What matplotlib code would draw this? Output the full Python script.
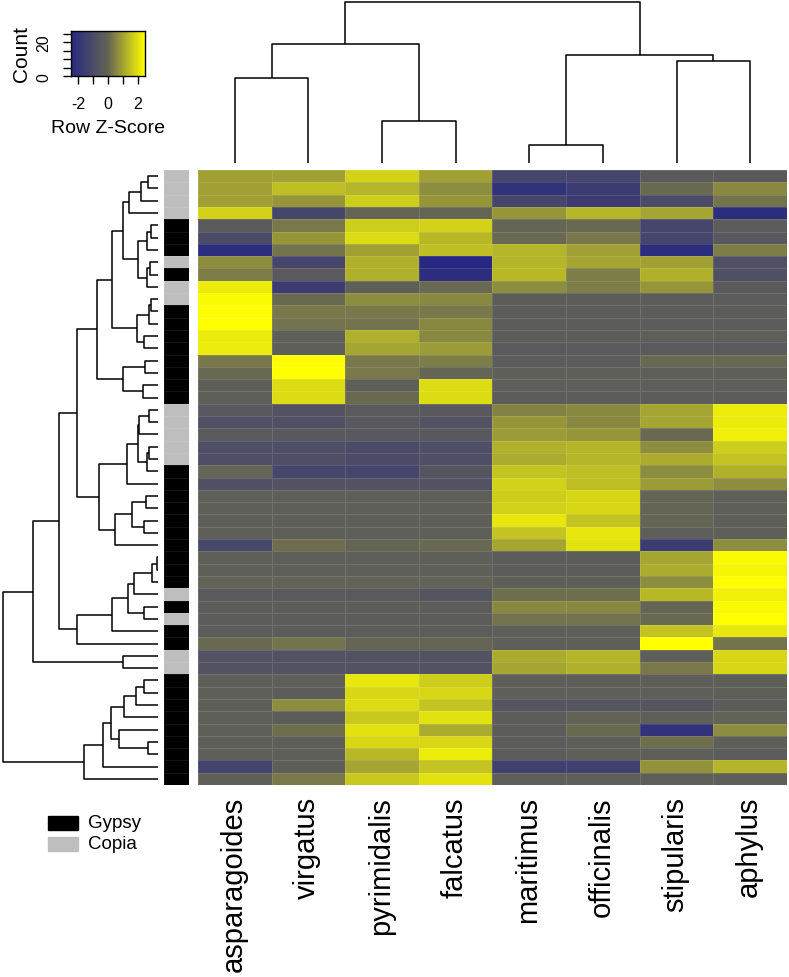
import numpy as np
import matplotlib
matplotlib.use("Agg")
import matplotlib.pyplot as plt
from matplotlib.colors import LinearSegmentedColormap, ListedColormap
from matplotlib.patches import Rectangle

plt.rcParams['font.family'] = ['Liberation Sans', 'DejaVu Sans']

# ---------------- data ----------------
SPECIES = ["asparagoides", "virgatus", "pyrimidalis", "falcatus",
           "maritimus", "officinalis", "stipularis", "aphylus"]

# Row z-scores (50 TE families x 8 species), top to bottom
ZSCORES = [
    [0.96, 0.96, 1.75, 0.96, -1.24, -1.24, -0.41, -0.41],
    [0.96, 1.43, 1.28, 0.64, -2.06, -1.65, 0.08, 0.56],
    [0.96, 0.80, 1.67, 0.80, -1.24, -1.65, -1.03, 0.24],
    [1.75, -1.24, 0.00, 0.00, 0.80, 1.28, 1.04, -2.26],
    [-0.41, 0.32, 1.67, 1.75, 0.00, 0.08, -1.24, -0.33],
    [-1.03, 0.80, 1.91, 1.35, 0.08, 0.32, -1.24, -0.49],
    [-2.26, 0.24, 0.96, 1.43, 1.28, 0.96, -2.26, 0.40],
    [0.64, -1.24, 1.20, -2.47, 1.28, 1.04, 0.96, -0.82],
    [0.40, -0.41, 1.20, -2.26, 1.35, 0.40, 1.20, -0.82],
    [2.15, -1.65, -0.21, 0.08, 0.64, 0.40, 0.80, -0.41],
    [2.39, 0.08, 0.64, 0.56, -0.33, -0.33, -0.33, -0.33],
    [2.47, 0.32, 0.32, 0.32, -0.33, -0.33, -0.33, -0.33],
    [2.47, 0.24, 0.24, 0.56, -0.33, -0.33, -0.33, -0.33],
    [2.15, -0.21, 1.20, 0.56, -0.33, -0.33, -0.21, -0.21],
    [2.15, -0.21, 1.04, 0.88, -0.41, -0.41, -0.41, -0.41],
    [0.32, 2.47, 0.32, 0.40, -0.33, -0.33, 0.08, 0.08],
    [0.08, 2.47, 0.32, 0.00, -0.21, -0.21, -0.21, -0.21],
    [-0.21, 1.91, -0.21, 1.91, -0.21, -0.21, -0.21, -0.21],
    [-0.21, 1.91, 0.08, 1.91, -0.33, -0.33, -0.33, -0.33],
    [-0.49, -0.74, -0.41, -0.49, 0.48, 0.56, 1.04, 2.15],
    [-0.82, -0.82, -0.49, -0.74, 0.80, 0.56, 1.04, 2.15],
    [-0.41, -0.49, -0.49, -0.49, 0.88, 0.80, 0.08, 2.23],
    [-0.91, -0.91, -1.03, -0.91, 1.20, 1.28, 0.64, 1.67],
    [-0.91, -0.91, -1.03, -0.91, 1.12, 1.28, 1.12, 1.51],
    [0.00, -1.24, -1.24, -0.62, 1.51, 1.43, 0.64, 1.20],
    [-0.82, -0.74, -0.74, -0.74, 1.75, 1.43, 0.88, 0.64],
    [-0.21, -0.21, -0.21, -0.21, 1.67, 1.83, 0.00, -0.21],
    [-0.21, -0.21, -0.21, -0.21, 1.75, 1.83, 0.00, -0.21],
    [-0.21, -0.21, -0.21, -0.21, 2.07, 1.51, 0.00, -0.21],
    [-0.21, -0.21, -0.21, -0.21, 1.51, 2.07, -0.21, -0.21],
    [-1.15, 0.16, 0.00, 0.08, 1.04, 1.99, -1.65, 0.64],
    [-0.21, -0.21, -0.21, -0.21, -0.33, -0.33, 1.04, 2.39],
    [-0.21, -0.21, -0.21, -0.21, -0.33, -0.33, 1.12, 2.31],
    [-0.08, -0.08, -0.08, -0.08, -0.21, -0.21, 0.64, 2.47],
    [-0.41, -0.41, -0.41, -0.62, 0.16, 0.16, 1.35, 2.23],
    [-0.33, -0.33, -0.33, -0.33, 0.56, 0.56, 0.00, 2.39],
    [-0.33, -0.33, -0.33, -0.33, 0.24, 0.24, 0.08, 2.47],
    [-0.33, -0.33, -0.33, -0.33, -0.21, -0.21, 1.51, 2.07],
    [0.08, 0.24, 0.00, 0.00, -0.21, -0.21, 2.47, 0.24],
    [-0.74, -0.74, -0.74, -0.74, 1.12, 1.28, -0.21, 1.83],
    [-0.74, -0.74, -0.74, -0.74, 1.04, 1.20, 0.32, 1.83],
    [-0.21, -0.21, 2.07, 1.67, -0.21, -0.21, -0.21, -0.21],
    [-0.21, -0.33, 1.83, 1.83, -0.21, -0.21, -0.21, -0.21],
    [-0.21, 0.64, 1.91, 1.51, -0.62, -0.62, -0.62, -0.33],
    [-0.21, -0.33, 1.59, 1.99, -0.33, -0.08, -0.21, -0.08],
    [-0.21, 0.16, 1.99, 1.12, -0.33, 0.08, -2.06, 0.64],
    [-0.21, -0.21, 1.83, 1.83, -0.33, -0.21, 0.16, -0.21],
    [-0.21, -0.21, 1.35, 2.15, -0.33, -0.21, -0.21, -0.33],
    [-1.32, -0.21, 1.04, 1.51, -1.44, -1.44, 0.72, 1.28],
    [-0.21, 0.32, 1.59, 1.99, -0.21, -0.21, -0.21, -0.21],
]

TE_TYPE = (["Copia"] * 4 + ["Gypsy"] * 3 + ["Copia"] + ["Gypsy"] + ["Copia"] * 2 +
           ["Gypsy"] * 8 + ["Copia"] * 5 + ["Gypsy"] * 10 + ["Copia"] + ["Gypsy"] +
           ["Copia"] + ["Gypsy"] * 2 + ["Copia"] * 2 + ["Gypsy"] * 9)
TE_LEGEND = ["Gypsy", "Copia"]

# row dendrogram merges: (name, left, right, height)
ROW_MERGES = [
    ("a1", 0, 1, 30), ("a2", "a1", 2, 53), ("a3", "a2", 3, 88),
    ("b1", 4, 5, 23), ("b2", "b1", 6, 34), ("b3", 7, 8, 25), ("b4", "b3", 9, 34),
    ("b5", "b2", "b4", 60), ("ab", "a3", "b5", 107),
    ("c1", 10, 11, 23), ("c2", "c1", 12, 28), ("c3", 13, 14, 43), ("c4", "c2", "c3", 63),
    ("abc", "ab", "c4", 138),
    ("d1", 15, 16, 40), ("d2", 17, 18, 45), ("d3", "d1", "d2", 107),
    ("abcd", "abc", "d3", 185),
    ("e1", 19, 20, 28), ("e2", "e1", 21, 58), ("e3", 22, 23, 27), ("e4", "e3", 24, 35),
    ("e5", "e2", "e4", 62), ("e6", "e5", 25, 95),
    ("f1", 26, 27, 38), ("f2", 28, 29, 43), ("f3", "f1", "f2", 80), ("f4", "f3", 30, 131),
    ("ef", "e6", "f4", 177),
    ("top", "abcd", "ef", 244),
    ("g1", 31, 32, 5), ("g2", "g1", 33, 20), ("g3", "g2", 34, 72), ("g4", 35, 36, 42),
    ("g5", "g3", "g4", 90), ("g6", "g5", 37, 138), ("g7", "g6", 38, 243),
    ("tg", "top", "g7", 297),
    ("h0", 39, 40, 107),
    ("upper", "tg", "h0", 375),
    ("i1", 41, 42, 43), ("i2", "i1", 43, 68), ("i3", "i2", 44, 102), ("i4", 46, 47, 32),
    ("i5", 45, "i4", 117), ("i6", "i3", "i5", 143), ("i7", "i6", 48, 165), ("i8", "i7", 49, 222),
    ("root", "upper", "i8", 467),
]

COL_MERGES = [
    ("p1", 0, 1, 256), ("p2", 2, 3, 126), ("L", "p1", "p2", 358),
    ("q1", 4, 5, 56), ("q2", 6, 7, 308), ("R", "q1", "q2", 325),
    ("root", "L", "R", 485),
]

# ---------------- styling ----------------
ZMAX = 2.47
cmap = LinearSegmentedColormap.from_list(
    "bgy", [(40/255, 40/255, 130/255), (100/255, 100/255, 85/255), (1.0, 1.0, 0.0)])

W, H = 789, 978
fig = plt.figure(figsize=(W/100, H/100), dpi=100)


def box(x0, y0, x1, y1):
    return [x0/W, 1 - y1/H, (x1-x0)/W, (y1-y0)/H]


def segments(merges):
    pos, hgt, segs = {}, {}, []

    def get(c):
        if isinstance(c, int):
            return c + 0.5, 0.0
        return pos[c], hgt[c]
    for name, l, r, h in merges:
        pl, hl = get(l)
        pr, hr = get(r)
        segs.append(([hl, h, h, hr], [pl, pl, pr, pr]))
        pos[name] = (pl + pr) / 2
        hgt[name] = h
    return segs


HM_L, HM_R, HM_T, HM_B = 198, 787, 171, 786
Z = np.array(ZSCORES)
nrow, ncol = Z.shape

# heatmap
ax = fig.add_axes(box(HM_L, HM_T, HM_R, HM_B))
ax.pcolormesh(np.arange(ncol + 1), np.arange(nrow + 1), Z, cmap=cmap,
              vmin=-ZMAX, vmax=ZMAX, edgecolors=(1, 1, 1, 0.12), linewidth=0.6)
ax.set_xlim(0, ncol)
ax.set_ylim(nrow, 0)
ax.axis("off")
for j, name in enumerate(SPECIES):
    ax.annotate(name, xy=(j + 0.5, 0), xycoords=("data", "axes fraction"),
                xytext=(-1, -8), textcoords="offset points", rotation=90,
                ha="center", va="top", fontsize=21)

# side colour bar
axs = fig.add_axes(box(164, HM_T, 189, HM_B))
side = np.array([[TE_LEGEND.index(t)] for t in TE_TYPE])
axs.pcolormesh(np.arange(2), np.arange(nrow + 1), side,
               cmap=ListedColormap(["black", "#BEBEBE"]), vmin=0, vmax=1,
               edgecolors=(1, 1, 1, 0.08), linewidth=0.6)
axs.set_xlim(0, 1)
axs.set_ylim(nrow, 0)
axs.axis("off")

# row dendrogram
axr = fig.add_axes(box(2.7, HM_T, 158.3, HM_B))
for xs, ys in segments(ROW_MERGES):
    axr.plot(xs, ys, color="black", lw=1.1, clip_on=False, solid_capstyle="butt")
axr.set_xlim(467, 0)
axr.set_ylim(nrow, 0)
axr.axis("off")

# column dendrogram
axc = fig.add_axes(box(HM_L, 2.7, HM_R, 164.3))
for hs, ps in segments(COL_MERGES):
    axc.plot(ps, hs, color="black", lw=1.1, clip_on=False, solid_capstyle="butt")
axc.set_xlim(0, ncol)
axc.set_ylim(0, 485)
axc.axis("off")

# colour key
axk = fig.add_axes(box(71, 31.7, 145, 77.3))
grad = np.linspace(-ZMAX, ZMAX, 256)[None, :]
axk.imshow(grad, cmap=cmap, vmin=-ZMAX, vmax=ZMAX, aspect="auto",
           extent=[-ZMAX, ZMAX, 0, 26.8], origin="lower")
axk.set_xlim(-ZMAX, ZMAX)
axk.set_ylim(0, 26.8)
axk.set_xticks([-2, -1, 0, 1, 2])
axk.set_xticklabels(["-2", "", "0", "", "2"])
axk.set_yticks([0, 5, 10, 15, 20, 25])
axk.set_yticklabels(["0", "", "", "", "20", ""], rotation=90, va="center")
axk.tick_params(axis="both", length=6, width=1, labelsize=11.5, pad=8)
for s in axk.spines.values():
    s.set_linewidth(1)
axk.set_xlabel("Row Z-Score", fontsize=14, labelpad=6)
axk.set_ylabel("Count", fontsize=15, labelpad=4)

# legend
for k, lab in enumerate(TE_LEGEND):
    yc = 824 + 21 * k
    fig.add_artist(Rectangle((48/W, 1 - (yc + 7)/H), 30/W, 14/H,
                             transform=fig.transFigure,
                             color="black" if lab == "Gypsy" else "#BEBEBE"))
    fig.text(88/W, 1 - yc/H, lab, fontsize=13.5, ha="left", va="center")

fig.savefig("out.png", dpi=100)
